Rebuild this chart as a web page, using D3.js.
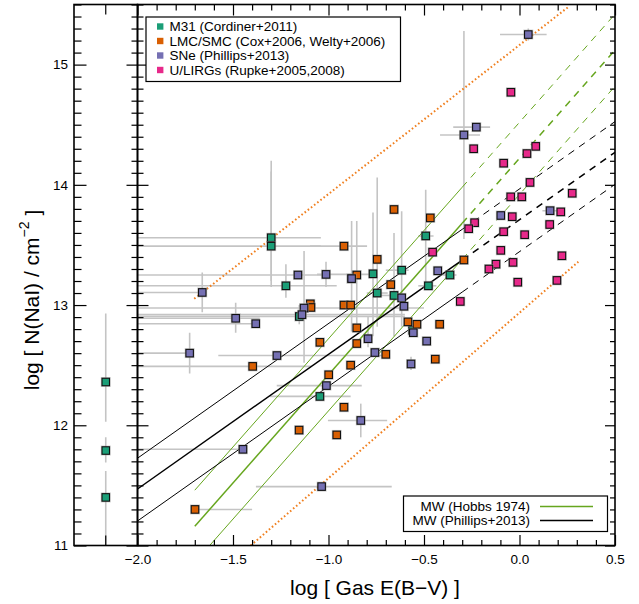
<!DOCTYPE html>
<html><head><meta charset="utf-8">
<script src="https://cdn.jsdelivr.net/npm/d3@7"></script>
<style>
body{margin:0;background:#fff}
text{font-family:"Liberation Sans",Arial,Helvetica,sans-serif;fill:#000}
</style>
</head><body>
<svg id="c" width="639" height="604"></svg>
<script>
// ---------------- DATA ----------------
// each point: [x, y, xlo, xhi, ylo, yhi]  (null = no error bar)
const m31Data = [
  [-1.300,13.56,-2.05,-1.04,13.15,14.20],
  [-1.300,13.49,-2.05,-1.04,13.20,14.11],
  [-1.223,13.16,-2.05,-0.957,13.06,13.34],
  [-0.880,13.22,null,null,null,null],
  [-0.767,13.26,null,null,12.74,13.77],
  [-1.153,12.905,-2.05,-0.60,12.84,13.00],
  [-1.045,12.24,-1.306,-0.884,null,null],
  [-0.617,13.29,-0.70,-0.58,12.82,13.78],
  [-0.491,13.575,-0.53,-0.45,13.18,13.96],
  [-0.364,13.25,-0.40,-0.33,null,null],
  [-0.477,13.16,-0.53,-0.435,null,null],
  [-0.745,13.10,-0.80,-0.69,12.82,14.06],
  [-0.657,13.08,-0.75,-0.60,12.74,13.60],
  [-0.560,12.79,null,null,null,null]
];
// M31 points without a gas E(B-V) value (side panel): [y, ylo, yhi]
const m31Side = [
  [12.36,12.03,12.93],
  [11.79,11.69,11.90],
  [11.40,10.90,11.62]
];
const lmcData = [
  [-0.919,13.49,-1.097,-0.798,null,null],
  [-0.745,13.38,null,null,null,null],
  [-0.852,13.25,null,null,12.78,13.70],
  [-1.095,13.01,null,null,null,null],
  [-1.092,12.98,null,null,null,null],
  [-0.919,13.00,null,null,null,null],
  [-0.884,13.00,null,null,null,null],
  [-1.397,12.49,-2.05,-1.09,null,null],
  [-1.045,12.69,null,null,null,null],
  [-0.852,12.81,null,null,null,null],
  [-0.852,12.68,null,null,null,null],
  [-0.884,12.50,null,null,null,null],
  [-0.999,12.42,null,null,null,null],
  [-0.919,12.15,null,null,null,null],
  [-1.154,11.96,null,null,null,null],
  [-0.957,11.92,null,null,null,null],
  [-1.699,11.30,-1.699,-1.40,null,null],
  [-0.657,13.795,null,null,null,null],
  [-0.467,13.725,null,null,null,null],
  [-0.291,13.375,null,null,null,null],
  [-0.674,13.17,null,null,null,null],
  [-0.584,12.86,null,null,null,null],
  [-0.537,12.84,null,null,null,null],
  [-0.418,12.84,null,null,null,null],
  [-0.700,12.59,null,null,null,null],
  [-0.441,12.55,null,null,null,null]
];
const sneData = [
  [-1.160,13.25,-2.05,-1.00,null,null],
  [-1.013,13.255,-1.06,-0.75,13.15,13.36],
  [-0.879,13.22,null,null,12.78,13.70],
  [-1.661,13.105,-2.05,-1.661,12.94,13.27],
  [-1.128,12.975,-2.05,-0.50,12.52,13.45],
  [-1.139,12.92,-2.05,-0.60,null,null],
  [-1.486,12.89,-2.05,-1.36,12.77,13.02],
  [-1.381,12.845,-2.05,-1.381,null,null],
  [-1.727,12.60,-2.05,-1.727,12.43,12.77],
  [-1.270,12.58,-1.577,-0.70,null,null],
  [-0.793,12.72,null,null,12.65,12.90],
  [-0.757,12.605,null,null,null,null],
  [-1.011,12.33,-1.271,-0.826,null,null],
  [-0.831,12.04,-1.003,-0.693,11.90,12.18],
  [-1.448,11.80,-2.05,-1.448,null,null],
  [-1.036,11.49,-1.38,-0.669,null,null],
  [-0.226,14.48,-0.347,-0.154,null,null],
  [-0.291,14.415,-0.416,-0.207,13.55,15.28],
  [0.160,13.785,0.12,0.20,null,null],
  [-0.098,13.745,null,null,null,null],
  [-0.428,13.285,null,null,null,null],
  [-0.617,13.06,null,null,null,null],
  [-0.605,12.99,null,null,null,null],
  [-0.556,12.77,null,null,null,null],
  [-0.486,12.70,null,null,null,null],
  [-0.568,12.51,null,null,12.46,12.57],
  [0.046,15.25,-0.102,0.142,15.20,15.30]
];
const ulirgData = [
  [-0.045,14.77],[-0.240,14.30],[-0.083,14.18],[0.039,14.26],[0.085,14.32],
  [0.055,14.02],[-0.046,13.90],[0.012,13.90],[0.276,13.93],[0.216,13.775],
  [-0.038,13.735],[-0.235,13.685],[-0.266,13.635],[-0.083,13.61],[0.158,13.67],
  [0.027,13.585],[-0.098,13.455],[-0.455,13.44],[0.222,13.41],[-0.123,13.34],
  [-0.034,13.355],[-0.160,13.30],[-0.009,13.19],[0.196,13.205],[-0.310,13.03]
];
const seriesNames = ["M31 (Cordiner+2011)","LMC/SMC (Cox+2006, Welty+2006)","SNe (Phillips+2013)","U/LIRGs (Rupke+2005,2008)"];
const seriesColors = ["#1b9e77","#d95f02","#7570b3","#e7298a"];
// MW relations: [x0,y0, xBreak,yBreak, x1,y1]  (solid to break, dashed after)
const hobbsLines = [
  [-1.70,11.46,-0.30,13.98,0.50,15.42],
  [-1.70,11.16,-0.30,13.68,0.50,15.12],
  [-1.70,10.86,-0.30,13.38,0.50,14.82]
];
const phillipsLines = [
  [-2.00,11.726,-0.30,13.63,0.50,14.526],
  [-2.00,11.47,-0.30,13.374,0.50,14.27],
  [-2.00,11.204,-0.30,13.108,0.50,14.004]
];
// orange dotted envelope lines [x0,y0,x1,y1]
const dottedLines = [
  [-1.703,13.053,0.256,15.48],
  [-1.407,11.00,0.308,13.36]
];
const lineNames = ["MW (Hobbs 1974)","MW (Phillips+2013)"];
const lineColors = ["#66a61e","#000000"];
const xTicksMajor = [-2.0,-1.5,-1.0,-0.5,0.0,0.5];
const yTicksMajor = [11,12,13,14,15];

// ---------------- DRAW ----------------
const svg = d3.select("#c");
const L = 137.5, R = 615, T = 4.5, B = 545.5, PL = 74;
const x = d3.scaleLinear([-2,0.5],[L,R]);
const y = d3.scaleLinear([11,15.5],[B,T]);
const xs = d3.scaleLinear([0,1],[PL,L]);

svg.append("defs").append("clipPath").attr("id","clip")
  .append("rect").attr("x",L).attr("y",T).attr("width",R-L).attr("height",B-T);
svg.append("defs").append("clipPath").attr("id","clipS")
  .append("rect").attr("x",PL).attr("y",T).attr("width",L-PL).attr("height",B-T);

const plot = svg.append("g").attr("clip-path","url(#clip)");
const side = svg.append("g").attr("clip-path","url(#clipS)");

const errCol = "#c4c4c4";
const allSeries = [m31Data, lmcData, sneData, ulirgData];
// error bars
allSeries.forEach(ser => ser.forEach(d => {
  if (d.length > 2 && d[2] !== null) plot.append("line")
    .attr("x1",x(d[2])).attr("x2",x(d[3])).attr("y1",y(d[1])).attr("y2",y(d[1]))
    .attr("stroke",errCol).attr("stroke-width",1.6);
  if (d.length > 4 && d[4] !== null) plot.append("line")
    .attr("x1",x(d[0])).attr("x2",x(d[0])).attr("y1",y(d[4])).attr("y2",y(d[5]))
    .attr("stroke",errCol).attr("stroke-width",1.6);
}));
m31Side.forEach(d => side.append("line")
  .attr("x1",xs(0.5)).attr("x2",xs(0.5)).attr("y1",y(d[1])).attr("y2",y(d[2]))
  .attr("stroke",errCol).attr("stroke-width",1.6));

// dotted lines
dottedLines.forEach(d => plot.append("line")
  .attr("x1",x(d[0])).attr("y1",y(d[1])).attr("x2",x(d[2])).attr("y2",y(d[3]))
  .attr("stroke","#f07f1e").attr("stroke-width",2).attr("stroke-dasharray","1.6,2.4"));

// relation lines
function relLines(arr, col){
  arr.forEach((d,i) => {
    const w = i===1 ? 1.5 : 1;
    plot.append("line").attr("x1",x(d[0])).attr("y1",y(d[1])).attr("x2",x(d[2])).attr("y2",y(d[3]))
      .attr("stroke",col).attr("stroke-width",w);
    plot.append("line").attr("x1",x(d[2])).attr("y1",y(d[3])).attr("x2",x(d[4])).attr("y2",y(d[5]))
      .attr("stroke",col).attr("stroke-width",w).attr("stroke-dasharray","7,6");
  });
}
relLines(hobbsLines, lineColors[0]);
relLines(phillipsLines, lineColors[1]);

// markers
const S = 7.5;
function marker(g, px, py, col){
  g.append("rect").attr("x",px-S/2-1.2).attr("y",py-S/2-1.2).attr("width",S+2.4).attr("height",S+2.4)
    .attr("fill","#9a9a9a").attr("opacity",0.55);
  g.append("rect").attr("x",px-S/2).attr("y",py-S/2).attr("width",S).attr("height",S)
    .attr("fill",col).attr("stroke","#111").attr("stroke-width",1.1);
}
allSeries.forEach((ser,i) => ser.forEach(d => marker(plot, x(d[0]), y(d[1]), seriesColors[i])));
m31Side.forEach(d => marker(side, xs(0.5), y(d[0]), seriesColors[0]));

// ---------------- AXES ----------------
const minorX = d3.range(-20,6).map(v=>v/10).filter(v=>!xTicksMajor.some(m=>Math.abs(m-v)<1e-9));
const minorY = d3.range(110,156).map(v=>v/10).filter(v=>!yTicksMajor.some(m=>Math.abs(m-v)<1e-9));
const fmtX = d3.format(".1f");

function tickStyle(g){ g.select(".domain").remove(); g.selectAll("line").attr("stroke","#000").attr("stroke-width",1.2); }

// bottom
svg.append("g").attr("transform",`translate(0,${B})`)
  .call(d3.axisBottom(x).tickValues(xTicksMajor).tickSizeInner(-10.5).tickSizeOuter(0).tickPadding(8.5).tickFormat(fmtX))
  .call(tickStyle).call(g=>g.selectAll("text").attr("font-size",13.5).attr("font-family","Liberation Sans, Arial, sans-serif"));
svg.append("g").attr("transform",`translate(0,${B})`)
  .call(d3.axisBottom(x).tickValues(minorX).tickSizeInner(-5.5).tickSizeOuter(0).tickFormat(""))
  .call(tickStyle);
// top
svg.append("g").attr("transform",`translate(0,${T})`)
  .call(d3.axisTop(x).tickValues(xTicksMajor).tickSizeInner(-11).tickSizeOuter(0).tickFormat(""))
  .call(tickStyle);
svg.append("g").attr("transform",`translate(0,${T})`)
  .call(d3.axisTop(x).tickValues(minorX).tickSizeInner(-6).tickSizeOuter(0).tickFormat(""))
  .call(tickStyle);
// main left axis: ticks both sides
[[-11,-6],[11,6]].forEach(([mj,mn]) => {
  svg.append("g").attr("transform",`translate(${L},0)`)
    .call(d3.axisLeft(y).tickValues(yTicksMajor).tickSizeInner(mj).tickSizeOuter(0).tickFormat(""))
    .call(tickStyle);
  svg.append("g").attr("transform",`translate(${L},0)`)
    .call(d3.axisLeft(y).tickValues(minorY).tickSizeInner(mn).tickSizeOuter(0).tickFormat(""))
    .call(tickStyle);
});
// right axis
svg.append("g").attr("transform",`translate(${R},0)`)
  .call(d3.axisRight(y).tickValues(yTicksMajor).tickSizeInner(-10).tickSizeOuter(0).tickFormat(""))
  .call(tickStyle);
svg.append("g").attr("transform",`translate(${R},0)`)
  .call(d3.axisRight(y).tickValues(minorY).tickSizeInner(-5).tickSizeOuter(0).tickFormat(""))
  .call(tickStyle);
// side panel left axis with labels
svg.append("g").attr("transform",`translate(${PL},0)`)
  .call(d3.axisLeft(y).tickValues(yTicksMajor).tickSizeInner(-12.5).tickSizeOuter(0).tickPadding(6).tickFormat(d3.format("d")))
  .call(tickStyle).call(g=>g.selectAll("text").attr("font-size",13.5).attr("font-family","Liberation Sans, Arial, sans-serif"));
svg.append("g").attr("transform",`translate(${PL},0)`)
  .call(d3.axisLeft(y).tickValues(minorY).tickSizeInner(-7.5).tickSizeOuter(0).tickFormat(""))
  .call(tickStyle);
// side panel top/bottom tick at the point column
svg.append("line").attr("x1",xs(0.5)).attr("x2",xs(0.5)).attr("y1",T).attr("y2",T+10).attr("stroke","#000").attr("stroke-width",1.2);
svg.append("line").attr("x1",xs(0.5)).attr("x2",xs(0.5)).attr("y1",B).attr("y2",B-10).attr("stroke","#000").attr("stroke-width",1.2);

// frames
svg.append("rect").attr("x",L).attr("y",T).attr("width",R-L).attr("height",B-T)
  .attr("fill","none").attr("stroke","#000").attr("stroke-width",1.6);
svg.append("rect").attr("x",PL).attr("y",T).attr("width",L-PL).attr("height",B-T)
  .attr("fill","none").attr("stroke","#000").attr("stroke-width",1.6);

// ---------------- LEGENDS ----------------
const lg = svg.append("g");
lg.append("rect").attr("x",146).attr("y",17).attr("width",254.5).attr("height",64.5)
  .attr("fill","#fff").attr("stroke","#000").attr("stroke-width",1.2);
seriesNames.forEach((n,i) => {
  const yy = 26.5 + i*14.5;
  lg.append("rect").attr("x",157).attr("y",yy-3.2).attr("width",6.4).attr("height",6.4).attr("fill",seriesColors[i]);
  lg.append("text").attr("x",169.5).attr("y",yy).attr("dy","0.36em").attr("font-size",13.5).text(n);
});
const lg2 = svg.append("g");
lg2.append("rect").attr("x",403.5).attr("y",496).attr("width",204).attr("height",35.5)
  .attr("fill","#fff").attr("stroke","#000").attr("stroke-width",1.2);
lineNames.forEach((n,i) => {
  const yy = 506.5 + i*14;
  lg2.append("text").attr("x",530).attr("y",yy).attr("dy","0.36em").attr("text-anchor","end").attr("font-size",13.5).text(n);
  lg2.append("line").attr("x1",540).attr("x2",593).attr("y1",yy).attr("y2",yy)
    .attr("stroke",lineColors[i]).attr("stroke-width",1.3);
});

// ---------------- AXIS TITLES ----------------
svg.append("text").attr("x",375).attr("y",587).attr("dy","0.36em").attr("text-anchor","middle")
  .attr("font-size",21).text("log [ Gas E(B\u2212V) ]");
const yt = svg.append("text").attr("transform","translate(31,300) rotate(-90)")
  .attr("text-anchor","middle").attr("dy","0.36em").attr("font-size",21);
yt.append("tspan").text("log [ N(NaI) / cm");
yt.append("tspan").attr("font-size",14).attr("dy","-0.7em").text("\u22122");
yt.append("tspan").attr("dy","0.55em").text(" ]");
</script>
</body></html>
